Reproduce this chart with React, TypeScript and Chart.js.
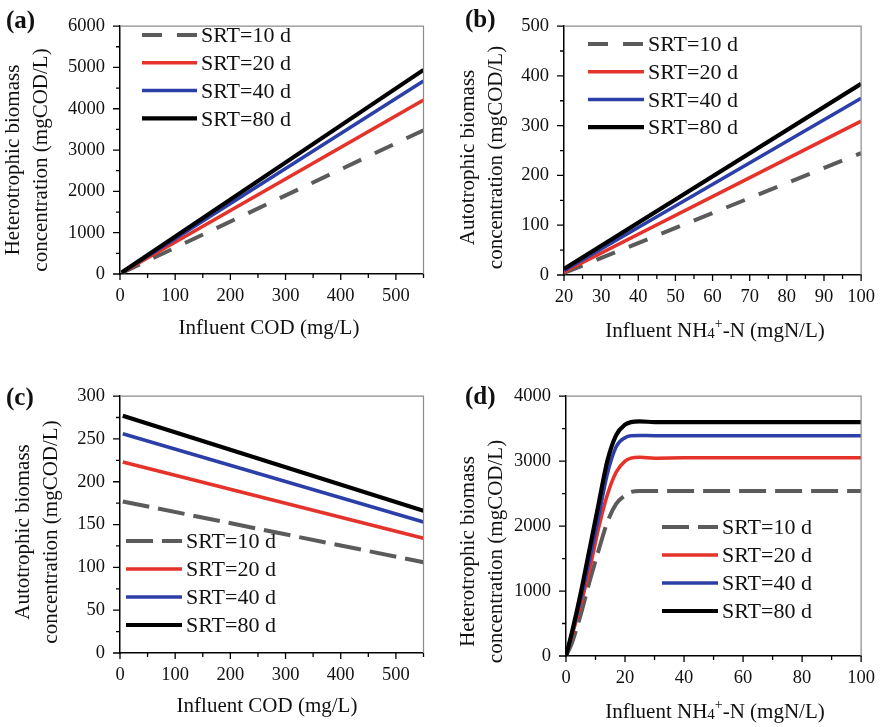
import React, { useEffect, useRef } from 'react';
import { Chart, registerables } from 'chart.js';

Chart.register(...registerables);

const FONT = '"Liberation Serif", serif';

// ---------- shared series info ----------
const seriesLabels = ['SRT=10 d', 'SRT=20 d', 'SRT=40 d', 'SRT=80 d'];
const seriesColors = ['#5b5b5b', '#e5322a', '#2c3fa8', '#000000'];
const seriesWidths = [4, 3.5, 3.5, 4.2];

// ---------- (a) heterotrophic biomass vs influent COD ----------
const codA = [3, 550];
const hetA_srt10 = [25, 3480];
const hetA_srt20 = [30, 4210];
const hetA_srt40 = [34, 4670];
const hetA_srt80 = [36, 4940];

// ---------- (b) autotrophic biomass vs influent NH4-N ----------
const nh4B = [20, 100];
const autB_srt10 = [4, 245];
const autB_srt20 = [6, 309];
const autB_srt40 = [9, 355];
const autB_srt80 = [12, 384];

// ---------- (c) autotrophic biomass vs influent COD ----------
const codC = [5, 550];
const autC_srt10 = [177, 106];
const autC_srt20 = [223, 134];
const autC_srt40 = [256, 153];
const autC_srt80 = [277, 166];

// ---------- (d) heterotrophic biomass vs influent NH4-N ----------
const nh4D = [0, 2, 5, 8, 11, 14, 17, 20, 22, 25, 30, 40, 60, 80, 100];
const hetD_srt10 = [0, 200, 640, 1150, 1620, 2060, 2340, 2470, 2525, 2540, 2540, 2540, 2540, 2540, 2540];
const hetD_srt20 = [0, 310, 800, 1330, 1960, 2480, 2830, 3000, 3045, 3060, 3045, 3050, 3050, 3050, 3050];
const hetD_srt40 = [0, 350, 880, 1490, 2130, 2800, 3220, 3360, 3390, 3395, 3390, 3390, 3390, 3390, 3390];
const hetD_srt80 = [0, 360, 970, 1650, 2330, 3000, 3400, 3560, 3600, 3610, 3600, 3600, 3600, 3600, 3600];

type Panel = {
  canvas: { x: number; y: number; w: number; h: number };
  area: { l: number; t: number; r: number; b: number };
  xs: { min: number; max: number; major: number; minor: number };
  ys: { min: number; max: number; major: number; minor: number };
  xData: number[];
  series: number[][];
  dash: number[];
  smooth: boolean;
  label: string;
  labelPos: [number, number];
  yTitle: string[];
  yTitleX: [number, number];
  yTitleCy: number;
  xTitle: 'cod' | 'nh4';
  xTitleCx: number;
  xTitleBase: number;
  legend: { x: number; y0: number; dy: number; len: number };
};

const panels: Panel[] = [
  {
    canvas: { x: 0, y: 0, w: 443, h: 370 },
    area: { l: 120, t: 12, r: 423.5, b: 274 },
    xs: { min: 0, max: 550, major: 100, minor: 50 },
    ys: { min: 0, max: 6000, major: 1000, minor: 500 },
    xData: codA,
    series: [hetA_srt10, hetA_srt20, hetA_srt40, hetA_srt80],
    dash: [20, 15],
    smooth: false,
    label: '(a)',
    labelPos: [6, 28],
    yTitle: ['Heterotrophic biomass', 'concentration (mgCOD/L)'],
    yTitleX: [19, 47],
    yTitleCy: 160,
    xTitle: 'cod',
    xTitleCx: 269,
    xTitleBase: 334,
    legend: { x: 142, y0: 35, dy: 27.8, len: 55 },
  },
  {
    canvas: { x: 443, y: 0, w: 443, h: 370 },
    area: { l: 564, t: 13, r: 868, b: 275 },
    xs: { min: 20, max: 100, major: 10, minor: 5 },
    ys: { min: 0, max: 500, major: 100, minor: 50 },
    xData: nh4B,
    series: [autB_srt10, autB_srt20, autB_srt40, autB_srt80],
    dash: [20, 15],
    smooth: false,
    label: '(b)',
    labelPos: [465, 27],
    yTitle: ['Autotrophic biomass', 'concentration (mgCOD/L)'],
    yTitleX: [473.5, 501.5],
    yTitleCy: 157.5,
    xTitle: 'nh4',
    xTitleCx: 715,
    xTitleBase: 337,
    legend: { x: 588, y0: 44, dy: 27.7, len: 56 },
  },
  {
    canvas: { x: 0, y: 370, w: 443, h: 357 },
    area: { l: 120, t: 392, r: 423.5, b: 653 },
    xs: { min: 0, max: 550, major: 100, minor: 50 },
    ys: { min: 0, max: 300, major: 50, minor: 25 },
    xData: codC,
    series: [autC_srt10, autC_srt20, autC_srt40, autC_srt80],
    dash: [27, 9],
    smooth: false,
    label: '(c)',
    labelPos: [6, 405],
    yTitle: ['Autotrophic biomass', 'concentration (mgCOD/L)'],
    yTitleX: [29, 57],
    yTitleCy: 532,
    xTitle: 'cod',
    xTitleCx: 267,
    xTitleBase: 712,
    legend: { x: 126, y0: 541, dy: 28, len: 56 },
  },
  {
    canvas: { x: 443, y: 370, w: 443, h: 357 },
    area: { l: 566, t: 394, r: 869, b: 656 },
    xs: { min: 0, max: 100, major: 20, minor: 10 },
    ys: { min: 0, max: 4000, major: 1000, minor: 500 },
    xData: nh4D,
    series: [hetD_srt10, hetD_srt20, hetD_srt40, hetD_srt80],
    dash: [27, 9],
    smooth: true,
    label: '(d)',
    labelPos: [465, 404],
    yTitle: ['Heterotrophic biomass', 'concentration (mgCOD/L)'],
    yTitleX: [474, 501.5],
    yTitleCy: 551.5,
    xTitle: 'nh4',
    xTitleCx: 715,
    xTitleBase: 718,
    legend: { x: 662, y0: 527, dy: 28, len: 56 },
  },
];

const decorPlugin = {
  id: 'panelDecor',
  afterDraw(chart: any) {
    const p: Panel = chart.options.plugins.panelDecor.panel;
    const ctx: CanvasRenderingContext2D = chart.ctx;
    const ox = p.canvas.x;
    const oy = p.canvas.y;
    const ca = chart.chartArea;
    const xs = chart.scales.x;
    const ys = chart.scales.y;
    ctx.save();

    // top / right frame
    ctx.strokeStyle = '#8c8c8c';
    ctx.lineWidth = 1.2;
    ctx.beginPath();
    ctx.moveTo(ca.left, ca.top);
    ctx.lineTo(ca.right, ca.top);
    ctx.lineTo(ca.right, ca.bottom);
    ctx.stroke();

    // outward tick marks (major + minor)
    ctx.strokeStyle = '#000';
    ctx.lineWidth = 1.3;
    ctx.beginPath();
    for (let v = p.xs.min; v <= p.xs.max + 1e-9; v += p.xs.minor) {
      const isMajor = Math.abs(v / p.xs.major - Math.round(v / p.xs.major)) < 1e-6;
      const px = xs.getPixelForValue(v);
      ctx.moveTo(px, ca.bottom);
      ctx.lineTo(px, ca.bottom + (isMajor ? 6 : 4));
    }
    for (let v = p.ys.min; v <= p.ys.max + 1e-9; v += p.ys.minor) {
      const isMajor = Math.abs(v / p.ys.major - Math.round(v / p.ys.major)) < 1e-6;
      const py = ys.getPixelForValue(v);
      ctx.moveTo(ca.left, py);
      ctx.lineTo(ca.left - (isMajor ? 7 : 4), py);
    }
    ctx.stroke();

    // panel label
    ctx.fillStyle = '#111';
    ctx.font = `bold 25px ${FONT}`;
    ctx.textAlign = 'left';
    ctx.textBaseline = 'alphabetic';
    ctx.fillText(p.label, p.labelPos[0] - ox, p.labelPos[1] - oy);

    // y-axis title (two lines, rotated)
    ctx.font = `21px ${FONT}`;
    ctx.textAlign = 'center';
    p.yTitle.forEach((line, i) => {
      ctx.save();
      ctx.translate(p.yTitleX[i] - ox, p.yTitleCy - oy);
      ctx.rotate(-Math.PI / 2);
      ctx.fillText(line, 0, 0);
      ctx.restore();
    });

    // x-axis title
    const base = p.xTitleBase - oy;
    if (p.xTitle === 'cod') {
      ctx.font = `21px ${FONT}`;
      ctx.textAlign = 'center';
      ctx.fillText('Influent COD (mg/L)', p.xTitleCx - ox, base);
    } else {
      const parts = [
        { t: 'Influent NH', size: 21, dy: 0 },
        { t: '4', size: 15, dy: 1 },
        { t: '+', size: 14, dy: -9 },
        { t: '-N (mgN/L)', size: 21, dy: 0 },
      ];
      let total = 0;
      const widths = parts.map((pt) => {
        ctx.font = `${pt.size}px ${FONT}`;
        const w = ctx.measureText(pt.t).width;
        total += w;
        return w;
      });
      let x = p.xTitleCx - ox - total / 2;
      ctx.textAlign = 'left';
      parts.forEach((pt, i) => {
        ctx.font = `${pt.size}px ${FONT}`;
        ctx.fillText(pt.t, x, base + pt.dy);
        x += widths[i];
      });
    }

    // legend
    const lg = p.legend;
    chart.data.datasets.forEach((ds: any, i: number) => {
      const y = lg.y0 + i * lg.dy - oy;
      ctx.save();
      ctx.strokeStyle = ds.borderColor;
      ctx.lineWidth = ds.borderWidth;
      ctx.setLineDash(ds.borderDash || []);
      ctx.lineCap = 'butt';
      ctx.beginPath();
      ctx.moveTo(lg.x - ox, y);
      ctx.lineTo(lg.x + lg.len - ox, y);
      ctx.stroke();
      ctx.restore();
      ctx.fillStyle = '#111';
      ctx.font = `22px ${FONT}`;
      ctx.textAlign = 'left';
      ctx.textBaseline = 'alphabetic';
      ctx.fillText(ds.label, lg.x + lg.len + 4 - ox, y + 7.3);
    });

    ctx.restore();
  },
};

function PanelChart({ p }: { p: Panel }) {
  const ref = useRef<HTMLCanvasElement | null>(null);
  useEffect(() => {
    if (!ref.current) return;
    const yWidth = p.area.l - p.canvas.x;
    const xHeight = p.canvas.y + p.canvas.h - p.area.b;
    const datasets = p.series.map((vals, i) => ({
      label: seriesLabels[i],
      data: p.xData.map((x, j) => ({ x, y: vals[j] })),
      borderColor: seriesColors[i],
      backgroundColor: seriesColors[i],
      borderWidth: seriesWidths[i],
      borderDash: i === 0 ? p.dash : [],
      borderCapStyle: 'butt',
      pointRadius: 0,
      fill: false,
      cubicInterpolationMode: p.smooth ? 'monotone' : 'default',
      tension: 0,
      order: 3 - i,
    }));
    const tickFont = { family: FONT, size: 18.5 };
    const fmt = (v: any) => String(v);
    const chart = new Chart(ref.current, {
      type: 'line',
      data: { datasets },
      plugins: [decorPlugin],
      options: {
        animation: false,
        responsive: false,
        maintainAspectRatio: false,
        layout: {
          padding: {
            left: 0,
            top: p.area.t - p.canvas.y,
            right: p.canvas.x + p.canvas.w - p.area.r,
            bottom: 0,
          },
        },
        plugins: {
          legend: { display: false },
          title: { display: false },
          tooltip: { enabled: false },
          panelDecor: { panel: p },
        } as any,
        scales: {
          x: {
            type: 'linear',
            min: p.xs.min,
            max: p.xs.max,
            grid: { display: false, drawTicks: false, tickLength: 0 },
            border: { display: true, color: '#000', width: 1.5 },
            ticks: {
              stepSize: p.xs.major,
              includeBounds: false,
              autoSkip: false,
              maxRotation: 0,
              font: tickFont,
              color: '#111',
              padding: 11,
              callback: fmt,
            },
            afterFit: (s: any) => {
              s.height = xHeight;
            },
          },
          y: {
            type: 'linear',
            min: p.ys.min,
            max: p.ys.max,
            grid: { display: false, drawTicks: false, tickLength: 0 },
            border: { display: true, color: '#000', width: 1.5 },
            ticks: {
              stepSize: p.ys.major,
              includeBounds: false,
              autoSkip: false,
              font: tickFont,
              color: '#111',
              padding: 15,
              callback: fmt,
            },
            afterFit: (s: any) => {
              s.width = yWidth;
            },
          },
        },
      } as any,
    });
    return () => chart.destroy();
  }, [p]);
  return (
    <canvas
      ref={ref}
      width={p.canvas.w}
      height={p.canvas.h}
      style={{
        position: 'absolute',
        left: p.canvas.x,
        top: p.canvas.y,
        width: p.canvas.w,
        height: p.canvas.h,
      }}
    />
  );
}

export default function App() {
  return (
    <div
      style={{
        position: 'absolute',
        left: 0,
        top: 0,
        width: 886,
        height: 727,
        background: '#fff',
        overflow: 'hidden',
      }}
    >
      {panels.map((p) => (
        <PanelChart key={p.label} p={p} />
      ))}
    </div>
  );
}
